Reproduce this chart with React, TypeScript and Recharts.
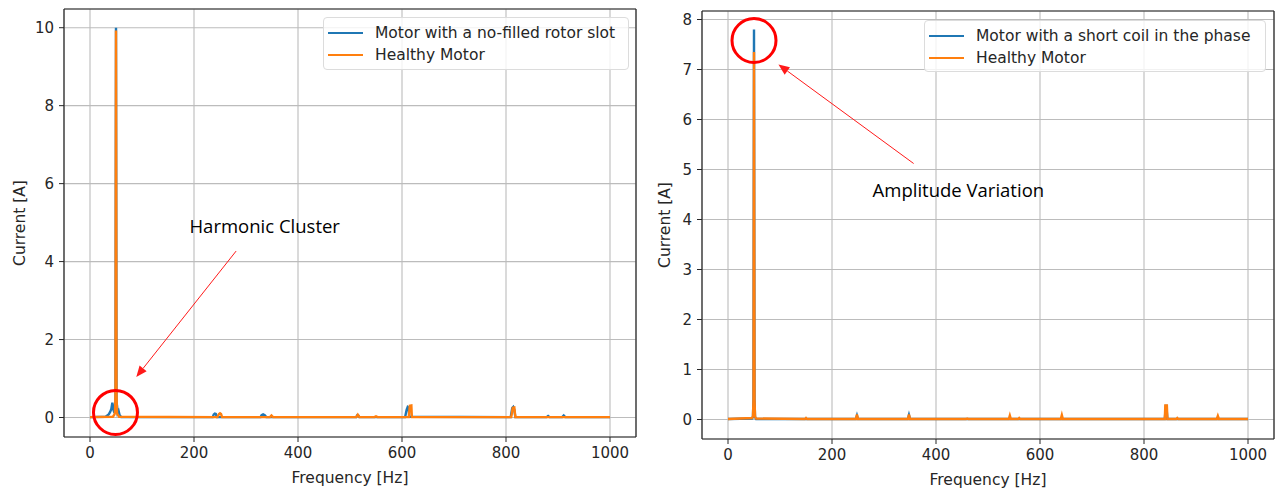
import React from 'react';
import {
  LineChart, Line, XAxis, YAxis, CartesianGrid, Legend,
  ReferenceLine, ReferenceDot,
} from 'recharts';

// ---------- Left chart data: rotor slot fault vs healthy ----------
const leftFaultFreq = [0, 30, 36, 39, 41, 43, 44, 45, 47, 48, 49, 50, 51, 52, 53, 55, 57, 60, 236, 238, 240, 242, 244, 328, 330, 333, 336, 339, 512, 514, 516, 518, 606, 609, 611, 613, 614, 809, 812, 814, 816, 818, 878, 881, 884, 908, 911, 914, 1000];
const leftFaultAmp = [0.01, 0.02, 0.08, 0.15, 0.22, 0.38, 0.3, 0.2, 0.12, 0.3, 0.4, 10.0, 0.4, 0.3, 0.12, 0.17, 0.06, 0.01, 0.01, 0.08, 0.1, 0.09, 0.01, 0.01, 0.06, 0.08, 0.06, 0.01, 0.01, 0.06, 0.05, 0.01, 0.01, 0.2, 0.27, 0.25, 0.02, 0.01, 0.24, 0.27, 0.2, 0.01, 0.01, 0.04, 0.01, 0.01, 0.05, 0.01, 0.01];
const leftHealthyFreq = [0, 44, 47, 48, 49, 50, 51, 52, 53, 56, 245, 248, 250, 252, 254, 346, 349, 352, 512, 515, 518, 547, 550, 553, 613, 615, 618, 619, 810, 813, 816, 818, 1000];
const leftHealthyAmp = [0.01, 0.02, 0.08, 0.12, 0.6, 9.93, 0.6, 0.12, 0.08, 0.02, 0.01, 0.09, 0.11, 0.09, 0.01, 0.01, 0.05, 0.01, 0.01, 0.07, 0.01, 0.01, 0.03, 0.01, 0.01, 0.3, 0.31, 0.01, 0.01, 0.25, 0.26, 0.01, 0.01];

// ---------- Right chart data: short coil vs healthy ----------
const rightFaultFreq = [0, 46, 48, 49, 50, 51, 52, 54, 246, 248, 250, 346, 348, 350, 840, 842, 843, 845, 1000];
const rightFaultAmp = [0.01, 0.02, 0.05, 0.4, 7.8, 0.4, 0.05, 0.01, 0.01, 0.08, 0.01, 0.01, 0.09, 0.01, 0.01, 0.27, 0.27, 0.01, 0.01];
const rightHealthyFreq = [0, 46, 48, 49, 50, 51, 52, 54, 148, 150, 152, 246, 248, 250, 346, 348, 350, 458, 460, 462, 540, 542, 544, 558, 560, 562, 640, 642, 644, 840, 841, 844, 845, 862, 864, 866, 940, 942, 944, 1000];
const rightHealthyAmp = [0.01, 0.03, 0.06, 0.4, 7.35, 0.4, 0.06, 0.02, 0.01, 0.03, 0.01, 0.01, 0.1, 0.01, 0.01, 0.1, 0.01, 0.01, 0.02, 0.01, 0.01, 0.08, 0.01, 0.01, 0.03, 0.01, 0.01, 0.09, 0.01, 0.01, 0.28, 0.28, 0.01, 0.01, 0.03, 0.01, 0.01, 0.07, 0.01, 0.01];

// ---------- Axes ----------
const xTicks = [0, 200, 400, 600, 800, 1000];
const xDomain: [number, number] = [-50, 1050];
const leftYTicks = [0, 2, 4, 6, 8, 10];
const leftYDomain: [number, number] = [-0.5, 10.48];
const rightYTicks = [0, 1, 2, 3, 4, 5, 6, 7, 8];
const rightYDomain: [number, number] = [-0.39, 8.17];

const leftNames = ['Motor with a no-filled rotor slot', 'Healthy Motor'];
const rightNames = ['Motor with a short coil in the phase', 'Healthy Motor'];

// ---------- Annotations (data coordinates) ----------
const leftCircle = { x: 49, y: 0.13 };
const leftArrow = [{ x: 281, y: 4.27 }, { x: 89, y: 1.04 }];
const leftText = { x: 336, y: 4.93, label: 'Harmonic Cluster' };
const rightCircle = { x: 50, y: 7.58 };
const rightArrow = [{ x: 357, y: 5.12 }, { x: 97, y: 7.1 }];
const rightText = { x: 443, y: 4.61, label: 'Amplitude Variation' };

const BLUE = '#1f77b4';
const ORANGE = '#ff7f0e';
const INK = '#262626';
const FONT = 'DejaVu Sans';

const zip = (f: number[], a: number[]) => f.map((v, i) => ({ f: v, a: a[i] }));

const ArrowShape = (p: any) => {
  const { x1, y1, x2, y2 } = p;
  const dx = x2 - x1;
  const dy = y2 - y1;
  const len = Math.sqrt(dx * dx + dy * dy) || 1;
  const ux = dx / len;
  const uy = dy / len;
  const hl = 11;
  const hw = 4.5;
  const bx = x2 - ux * hl;
  const by = y2 - uy * hl;
  const pts = `${x2},${y2} ${bx - uy * hw},${by + ux * hw} ${bx + uy * hw},${by - ux * hw}`;
  return (
    <g>
      <line x1={x1} y1={y1} x2={bx} y2={by} stroke="#ff1a1a" strokeWidth={1} />
      <polygon points={pts} fill="#ff1a1a" />
    </g>
  );
};

const textShape = (label: string) => (p: any) => (
  <text x={p.cx} y={p.cy} textAnchor="middle" dominantBaseline="central"
    fontFamily="Open Sans" fontSize={18.5} fill="#000">{label}</text>
);

const makeLegend = (w: number, h: number, order: string[]) => (props: any) => {
  const payload = [...(props.payload || [])].sort(
    (a: any, b: any) => order.indexOf(a.value) - order.indexOf(b.value),
  );
  return (
    <div style={{
      width: w, height: h, boxSizing: 'border-box', border: '1px solid #dcdcdc', borderRadius: 4,
      background: 'rgba(255,255,255,0.8)', paddingTop: 4, paddingLeft: 4,
      fontFamily: FONT, fontSize: 15.5, color: INK,
    }}>
      {payload.map((it: any, i: number) => (
        <div key={i} style={{ display: 'flex', alignItems: 'center', height: 22, whiteSpace: 'nowrap' }}>
          <svg width={35} height={4} style={{ marginRight: 12, flex: 'none' }}>
            <line x1={0} y1={2} x2={35} y2={2} stroke={it.color} strokeWidth={2.2} />
          </svg>
          <span>{it.value}</span>
        </div>
      ))}
    </div>
  );
};

const yLabel = (offset: number) => (p: any) => {
  const vb = p.viewBox || {};
  const cx = vb.x + vb.width - offset;
  const cy = vb.y + vb.height / 2;
  return (
    <text x={cx} y={cy} textAnchor="middle" dominantBaseline="central" transform={`rotate(-90, ${cx}, ${cy})`}
      fontFamily={FONT} fontSize={15.5} fill={INK}>Current [A]</text>
  );
};

const xLabel = (p: any) => {
  const vb = p.viewBox || {};
  const cx = vb.x + vb.width / 2;
  const cy = vb.y + 41;
  return (
    <text x={cx} y={cy} textAnchor="middle" dominantBaseline="central"
      fontFamily={FONT} fontSize={15.5} fill={INK}>Frequency [Hz]</text>
  );
};

type PanelProps = {
  fault: { f: number; a: number }[];
  healthy: { f: number; a: number }[];
  names: string[];
  yTicks: number[];
  yDomain: [number, number];
  margin: { top: number; right: number; bottom: number; left: number };
  yWidth: number;
  xHeight: number;
  yLabelOffset: number;
  legendPos: { left: number; top: number; w: number; h: number };
  circle: { x: number; y: number };
  arrow: { x: number; y: number }[];
  note: { x: number; y: number; label: string };
};

const Panel = (pp: PanelProps) => {
  const tickStyle = { fill: INK, fontSize: 15, fontFamily: FONT };
  return (
    <LineChart width={641} height={490} margin={pp.margin}>
      <CartesianGrid stroke="#bcbcbc" strokeWidth={1.1} />
      <XAxis type="number" dataKey="f" domain={xDomain} ticks={xTicks} allowDataOverflow
        height={pp.xHeight} tick={tickStyle} tickSize={5} tickMargin={5}
        stroke={INK} axisLine={{ stroke: INK, strokeWidth: 1.2 }} tickLine={{ stroke: INK }}
        label={{ content: xLabel }} />
      <YAxis type="number" dataKey="a" domain={pp.yDomain} ticks={pp.yTicks} allowDataOverflow
        width={pp.yWidth} tick={tickStyle} tickSize={5} tickMargin={5}
        stroke={INK} axisLine={{ stroke: INK, strokeWidth: 1.2 }} tickLine={{ stroke: INK }}
        label={{ content: yLabel(pp.yLabelOffset) }} />
      <ReferenceLine x={xDomain[1]} stroke={INK} strokeWidth={1.2} />
      <ReferenceLine y={pp.yDomain[1]} stroke={INK} strokeWidth={1.2} />
      <Line data={pp.fault} dataKey="a" name={pp.names[0]} stroke={BLUE} strokeWidth={2.4}
        dot={false} activeDot={false} isAnimationActive={false} type="linear" />
      <Line data={pp.healthy} dataKey="a" name={pp.names[1]} stroke={ORANGE} strokeWidth={2.4}
        dot={false} activeDot={false} isAnimationActive={false} type="linear" />
      <Legend layout="vertical" align="center" verticalAlign="middle"
        content={makeLegend(pp.legendPos.w, pp.legendPos.h, pp.names)}
        wrapperStyle={{ left: pp.legendPos.left, top: pp.legendPos.top, width: pp.legendPos.w, height: pp.legendPos.h }} />
      <ReferenceDot x={pp.circle.x} y={pp.circle.y} r={22} fill="none" stroke="#ff0000" strokeWidth={3} />
      <ReferenceLine segment={pp.arrow} shape={ArrowShape} />
      <ReferenceDot x={pp.note.x} y={pp.note.y} r={1} shape={textShape(pp.note.label)} />
    </LineChart>
  );
};

export default function App() {
  return (
    <div style={{ position: 'absolute', left: 0, top: 0, width: 1282, height: 490, background: '#fff' }}>
      <div style={{ position: 'absolute', left: 0, top: 0 }}>
        <Panel
          fault={zip(leftFaultFreq, leftFaultAmp)}
          healthy={zip(leftHealthyFreq, leftHealthyAmp)}
          names={leftNames}
          yTicks={leftYTicks}
          yDomain={leftYDomain}
          margin={{ top: 9, right: 5, bottom: 0, left: 0 }}
          yWidth={64}
          xHeight={53}
          yLabelOffset={44}
          legendPos={{ left: 323, top: 17, w: 306, h: 53 }}
          circle={leftCircle}
          arrow={leftArrow}
          note={leftText}
        />
      </div>
      <div style={{ position: 'absolute', left: 641, top: 0 }}>
        <Panel
          fault={zip(rightFaultFreq, rightFaultAmp)}
          healthy={zip(rightHealthyFreq, rightHealthyAmp)}
          names={rightNames}
          yTicks={rightYTicks}
          yDomain={rightYDomain}
          margin={{ top: 11, right: 8, bottom: 0, left: 0 }}
          yWidth={61}
          xHeight={51}
          yLabelOffset={37}
          legendPos={{ left: 283, top: 20, w: 342, h: 52 }}
          circle={rightCircle}
          arrow={rightArrow}
          note={rightText}
        />
      </div>
    </div>
  );
}
